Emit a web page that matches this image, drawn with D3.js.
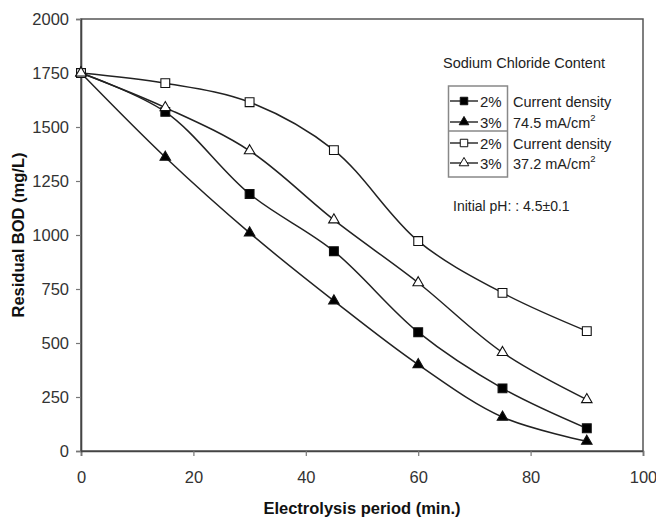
<!DOCTYPE html>
<html>
<head>
<meta charset="utf-8">
<script src="https://cdn.jsdelivr.net/npm/d3@7"></script>
<style>
  body { margin: 0; background: #fff; }
  text { font-family: "Liberation Sans", Arial, sans-serif; }
</style>
</head>
<body>
<script>
// Data
var periods = [0, 15, 30, 45, 60, 75, 90];
var bod2High = [1750, 1570, 1190, 925, 550, 290, 105];   // 2% NaCl, 74.5 mA/cm2
var bod3High = [1750, 1360, 1010, 695, 400, 157, 45];    // 3% NaCl, 74.5 mA/cm2
var bod2Low = [1750, 1703, 1615, 1393, 972, 732, 555];   // 2% NaCl, 37.2 mA/cm2
var bod3Low = [1750, 1590, 1390, 1070, 779, 456, 238];   // 3% NaCl, 37.2 mA/cm2
var xTicks = [0, 20, 40, 60, 80, 100];
var yTicks = [0, 250, 500, 750, 1000, 1250, 1500, 1750, 2000];

// Width and height
var w = 656;
var h = 517;
var margin = {top: 19, right: 13, bottom: 66, left: 81};

var svg = d3.select("body")
      .append("svg")
      .attr("width", w)
      .attr("height", h);

var x = d3.scaleLinear().domain([0, 100]).range([margin.left, w - margin.right]);
var y = d3.scaleLinear().domain([0, 2000]).range([h - margin.bottom, margin.top]);

// plot frame
svg.append("rect")
   .attr("x", x(0))
   .attr("y", y(2000))
   .attr("width", x(100) - x(0))
   .attr("height", y(0) - y(2000))
   .attr("fill", "none")
   .attr("stroke", "#555")
   .attr("stroke-width", 1.5);

// axes
var xAxis = svg.append("g")
   .attr("transform", "translate(0," + y(0) + ")")
   .call(d3.axisBottom(x).tickValues(xTicks).tickSize(5).tickPadding(15).tickFormat(d3.format("d")));
var yAxis = svg.append("g")
   .attr("transform", "translate(" + x(0) + ",0)")
   .call(d3.axisLeft(y).tickValues(yTicks).tickSize(5).tickPadding(7).tickFormat(d3.format("d")));

[xAxis, yAxis].forEach(function(g) {
  g.select(".domain").attr("stroke", "#444").attr("stroke-width", 1.6);
  g.selectAll(".tick line").attr("stroke", "#777").attr("stroke-width", 1.2);
  g.selectAll(".tick text")
   .attr("fill", "#333")
   .style("font-size", "16.5px")
   .style("font-family", "'Liberation Sans', Arial, sans-serif");
});

// axis titles
svg.append("text")
   .attr("x", (x(0) + x(100)) / 2)
   .attr("y", 514)
   .attr("text-anchor", "middle")
   .style("font-size", "16.5px")
   .style("font-weight", "bold")
   .attr("fill", "#111")
   .text("Electrolysis period (min.)");

svg.append("text")
   .attr("transform", "translate(24," + ((y(0) + y(2000)) / 2) + ") rotate(-90)")
   .attr("text-anchor", "middle")
   .style("font-size", "16.5px")
   .style("font-weight", "bold")
   .attr("fill", "#111")
   .text("Residual BOD (mg/L)");

// series
var series = [
  {values: bod2High, shape: d3.symbolSquare, size: 78, fill: "#000"},
  {values: bod3High, shape: d3.symbolTriangle, size: 48, fill: "#000"},
  {values: bod2Low, shape: d3.symbolSquare, size: 78, fill: "#fff"},
  {values: bod3Low, shape: d3.symbolTriangle, size: 48, fill: "#fff"}
];

var line = d3.line()
   .x(function(d) { return x(d[0]); })
   .y(function(d) { return y(d[1]); })
   .curve(d3.curveCatmullRom.alpha(0.5));

series.forEach(function(s) {
  var pts = periods.map(function(p, i) { return [p, s.values[i]]; });
  svg.append("path")
     .datum(pts)
     .attr("d", line)
     .attr("fill", "none")
     .attr("stroke", "#222")
     .attr("stroke-width", 1.5);
});

series.forEach(function(s) {
  var pts = periods.map(function(p, i) { return [p, s.values[i]]; });
  svg.selectAll(null)
     .data(pts)
     .enter()
     .append("path")
     .attr("d", d3.symbol().type(s.shape).size(s.size))
     .attr("transform", function(d) { return "translate(" + x(d[0]) + "," + y(d[1]) + ")"; })
     .attr("fill", s.fill)
     .attr("stroke", "#111")
     .attr("stroke-width", 1.1);
});

// legend
var legend = svg.append("g");

legend.append("text")
   .attr("x", 443)
   .attr("y", 68)
   .style("font-size", "14.5px")
   .attr("fill", "#222")
   .text("Sodium Chloride Content");

legend.append("rect")
   .attr("x", 448.5)
   .attr("y", 86)
   .attr("width", 59)
   .attr("height", 91)
   .attr("fill", "none")
   .attr("stroke", "#888")
   .attr("stroke-width", 1.5);

legend.append("line")
   .attr("x1", 448.5).attr("x2", 507.5)
   .attr("y1", 131).attr("y2", 131)
   .attr("stroke", "#888")
   .attr("stroke-width", 1.5);

var legendRows = ["2%", "3%", "2%", "3%"];
var rowY = [101, 122, 143, 163];

series.forEach(function(s, i) {
  var g = legend.append("g").attr("transform", "translate(0," + rowY[i] + ")");
  g.append("line")
   .attr("x1", 450).attr("x2", 478)
   .attr("y1", 0).attr("y2", 0)
   .attr("stroke", "#222")
   .attr("stroke-width", 1.4);
  g.append("path")
   .attr("d", d3.symbol().type(s.shape).size(s.shape === d3.symbolSquare ? 56 : 40))
   .attr("transform", "translate(464,0)")
   .attr("fill", s.fill)
   .attr("stroke", "#111")
   .attr("stroke-width", 1);
  g.append("text")
   .attr("x", 480)
   .attr("y", 5.5)
   .style("font-size", "15px")
   .attr("fill", "#222")
   .text(legendRows[i]);
});

var densityText = [
  {y: rowY[0], t: "Current density"},
  {y: rowY[1], t: "74.5 mA/cm", sup: "2"},
  {y: rowY[2], t: "Current density"},
  {y: rowY[3], t: "37.2 mA/cm", sup: "2"}
];

densityText.forEach(function(d) {
  var t = legend.append("text")
     .attr("x", 513)
     .attr("y", d.y + 5.5)
     .style("font-size", "14.5px")
     .attr("fill", "#222")
     .text(d.t);
  if (d.sup) {
    t.append("tspan")
     .attr("dy", -7)
     .style("font-size", "9.5px")
     .text(d.sup);
  }
});

legend.append("text")
   .attr("x", 453)
   .attr("y", 211)
   .style("font-size", "14px")
   .attr("fill", "#222")
   .text("Initial pH: : 4.5\u00b10.1");
</script>
</body>
</html>
